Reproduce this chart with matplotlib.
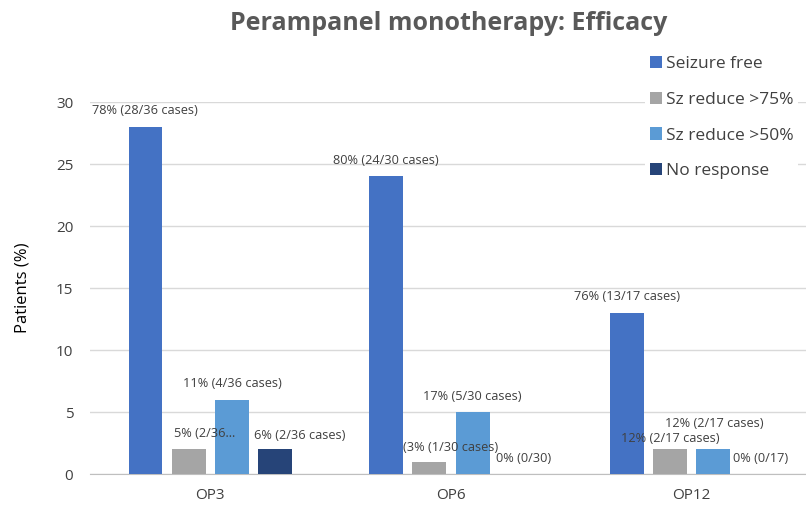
import matplotlib.pyplot as plt
import numpy as np

# data
groups = ['OP3', 'OP6', 'OP12']
series = ['Seizure free', 'Sz reduce >75%', 'Sz reduce >50%', 'No response']
seizure_free = [28, 24, 13]
reduce_75 = [2, 1, 2]
reduce_50 = [6, 5, 2]
no_response = [2, 0, 0]
labels = [
    ['78% (28/36 cases)', '80% (24/30 cases)', '76% (13/17 cases)'],
    ['5% (2/36...', '(3% (1/30 cases)', '12% (2/17 cases)'],
    ['11% (4/36 cases)', '17% (5/30 cases)', '12% (2/17 cases)'],
    ['6% (2/36 cases)', '0% (0/30)', '0% (0/17)'],
]
colors = ['#4472C4', '#A5A5A5', '#5B9BD5', '#264478']

# label offsets in pixels (dx, dy from bar top centre)
offsets = [
    [(0, 16), (0, 16), (0, 16)],
    [(16, 16), (21, 14), (0, 11)],
    [(0, 16), (0, 15), (1, 26)],
    [(24, 14), (8, 16), (4, 16)],
]

plt.rcParams['font.family'] = ['Open Sans', 'DejaVu Sans']

fig = plt.figure(figsize=(8.06, 5.12), dpi=100)
ax = fig.add_axes([90 / 806, 1 - 474 / 512, 722 / 806, 372 / 512])

x = np.arange(len(groups))
step = 0.18
width = 0.14
all_vals = [seizure_free, reduce_75, reduce_50, no_response]
for i, (vals, c, name) in enumerate(zip(all_vals, colors, series)):
    pos = x + (i - 1.5) * step
    ax.bar(pos, vals, width=width, color=c, label=name, zorder=3)
    for j in range(len(groups)):
        dx, dy = offsets[i][j]
        ax.annotate(labels[i][j], (pos[j], vals[j]), xytext=(dx * 0.72, dy * 0.72),
                    textcoords='offset points', ha='center', va='center',
                    fontsize=9.2, color='#404040', zorder=4)

ax.set_xlim(-0.5, 2.5)
ax.set_ylim(0, 30)
ax.set_yticks(range(0, 31, 5))
ax.set_xticks(x)
ax.set_xticklabels(groups)
ax.grid(axis='y', color='#D9D9D9', linewidth=1, zorder=0)
for s in ['top', 'right', 'left']:
    ax.spines[s].set_visible(False)
ax.spines['bottom'].set_color('#BFBFBF')
ax.tick_params(axis='both', length=0, labelsize=11, colors='#404040', pad=10)
ax.tick_params(axis='y', pad=12)
ax.set_ylabel('Patients (%)', fontsize=12, color='black', labelpad=18)

fig.text(449 / 806, 0.955, 'Perampanel monotherapy: Efficacy', ha='center', va='center',
         fontsize=18, fontweight='bold', color='#595959')

leg = fig.legend(loc='upper left', bbox_to_anchor=(636 / 806, 1 - 42 / 512),
                 frameon=True, framealpha=1, edgecolor='none', fontsize=12.5,
                 handlelength=0.7, handleheight=0.7, handletextpad=0.2,
                 labelspacing=1.13, borderpad=0.3)
for t in leg.get_texts():
    t.set_color('#404040')

fig.savefig('out.png', dpi=100)
